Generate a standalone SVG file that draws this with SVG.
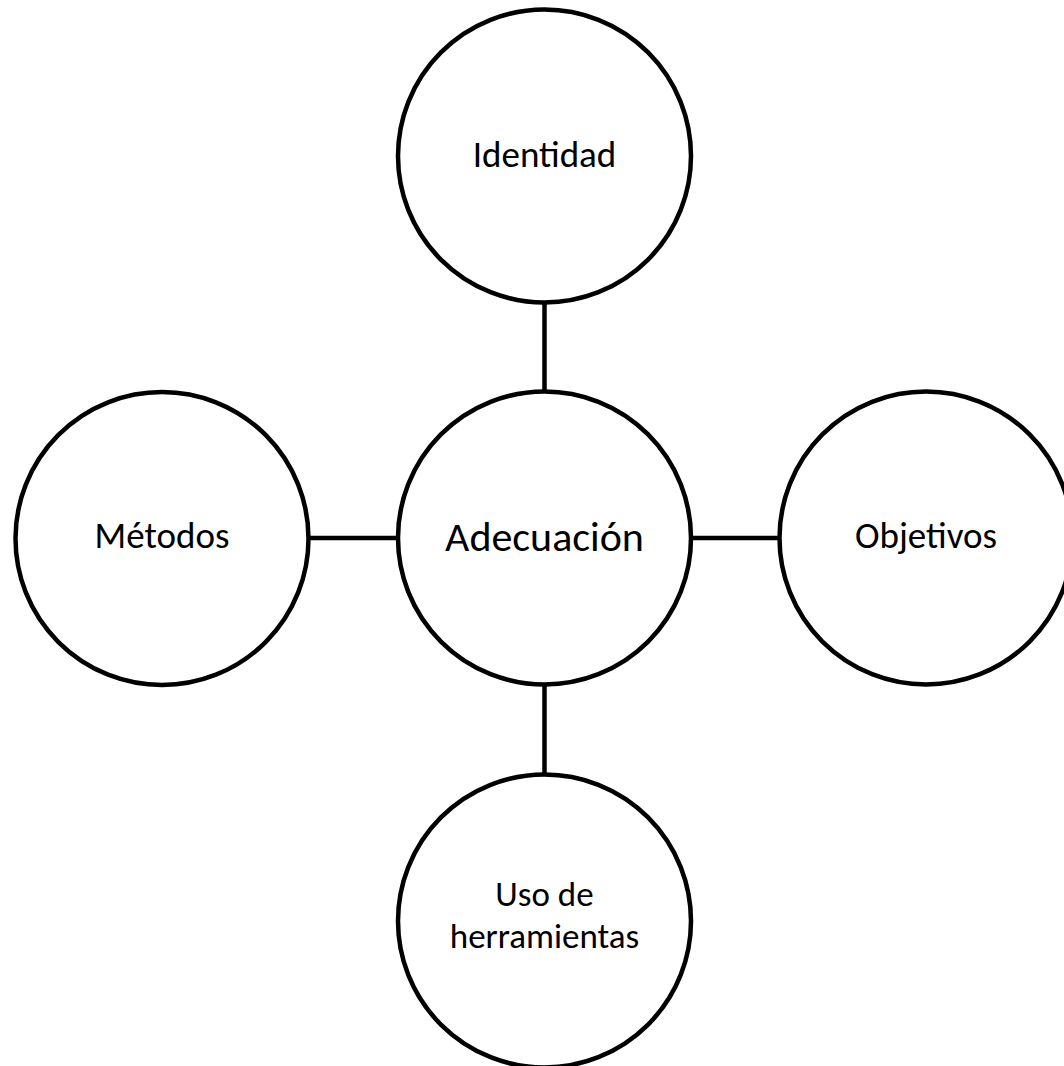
<svg xmlns="http://www.w3.org/2000/svg" width="1064" height="1066" viewBox="0 0 1064 1066">
<style>
.node{fill:#fff;stroke:#000;stroke-width:4.5}
.conn{stroke:#000;stroke-width:4.5;fill:none}
.lbl{font-family:Carlito,Lato,"Liberation Sans",sans-serif;font-size:37px;fill:#000;text-anchor:middle}
.big{font-size:42px}
.two{font-size:35px}
</style>
<rect width="1064" height="1066" fill="#fff"/>
<g id="connectors">
<line class="conn" x1="544.5" y1="302" x2="544.5" y2="392"/>
<line class="conn" x1="308" y1="538" x2="399" y2="538"/>
<line class="conn" x1="690" y1="538" x2="780" y2="538"/>
<line class="conn" x1="544.5" y1="684" x2="544.5" y2="775"/>
</g>
<g id="node-identidad">
<circle class="node" cx="544.5" cy="156" r="146.5"/>
<text class="lbl" x="544.5" y="167">Identidad</text>
</g>
<g id="node-metodos">
<circle class="node" cx="162" cy="538.5" r="146.5"/>
<text class="lbl" x="162" y="548">Métodos</text>
</g>
<g id="node-objetivos">
<circle class="node" cx="926" cy="538" r="146.5"/>
<text class="lbl" x="926" y="548">Objetivos</text>
</g>
<g id="node-herramientas">
<circle class="node" cx="544.5" cy="921" r="146.5"/>
<text class="lbl two" x="544.5" y="906">Uso de</text>
<text class="lbl two" x="544.5" y="948">herramientas</text>
</g>
<g id="node-adecuacion">
<circle class="node" cx="544.5" cy="538" r="146.5"/>
<text class="lbl big" x="544.5" y="551">Adecuación</text>
</g>
</svg>
